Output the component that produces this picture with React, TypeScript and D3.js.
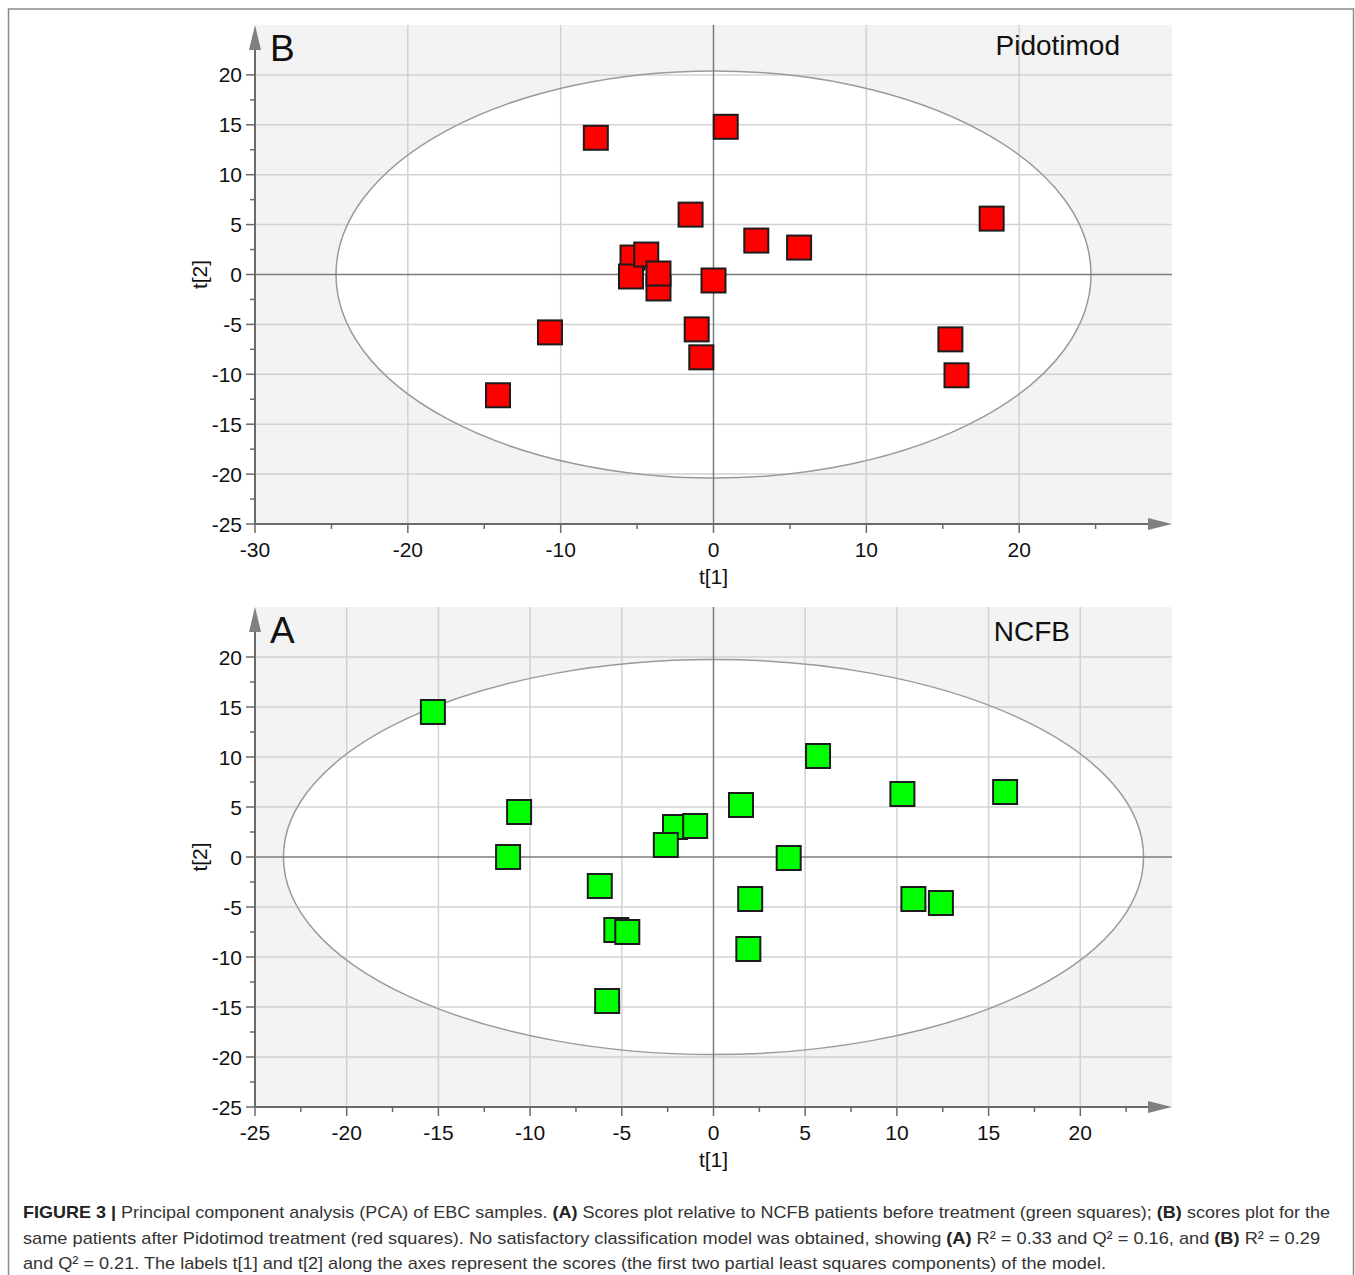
import React from 'react';
import * as d3 from 'd3';

// Scores for the Pidotimod group (panel B), drawn back to front
const pidotimodT1 = [-7.7, 0.8, -1.5, 2.8, 5.6, 18.2, -3.6, -5.3, -5.4, -4.4, -3.6, 0.0, -1.1, -0.8, -10.7, -14.1, 15.5, 15.9];
const pidotimodT2 = [13.7, 14.8, 6.0, 3.4, 2.7, 5.6, -1.4, 1.7, -0.2, 2.0, 0.1, -0.6, -5.5, -8.3, -5.8, -12.1, -6.5, -10.1];

// Scores for the NCFB group (panel A)
const ncfbT1 = [-15.3, -10.6, -11.2, -2.1, -1.0, -2.6, 1.5, -6.2, -5.3, -4.7, 2.0, 1.9, 5.7, 10.3, 15.9, 4.1, 10.9, 12.4, -5.8];
const ncfbT2 = [14.5, 4.5, 0.0, 3.0, 3.1, 1.2, 5.2, -2.9, -7.3, -7.5, -4.2, -9.2, 10.1, 6.3, 6.5, -0.1, -4.2, -4.6, -14.4];

// Hotelling T2 ellipse semi-axes (t[1], t[2])
const pidotimodEllipse = [24.7, 20.4];
const ncfbEllipse = [23.45, 19.75];

// Axis ticks
const yTicks = [20, 15, 10, 5, 0, -5, -10, -15, -20, -25];
const yMinorTicks = [17.5, 12.5, 7.5, 2.5, -2.5, -7.5, -12.5, -17.5, -22.5];
const yGrid = [20, 15, 10, 5, -5, -10, -15, -20];

const xTicksB = [-30, -20, -10, 0, 10, 20];
const xMinorB = [-25, -15, -5, 5, 15, 25];
const xGridB = [-20, -10, 10, 20];

const xTicksA = [-25, -20, -15, -10, -5, 0, 5, 10, 15, 20];
const xMinorA = [-22.5, -17.5, -12.5, -7.5, -2.5, 2.5, 7.5, 12.5, 17.5, 22.5];
const xGridA = [-20, -15, -10, -5, 5, 10, 15, 20];

const captionLines = [
  [
    { b: true, t: 'FIGURE 3 | ' },
    { b: false, t: 'Principal component analysis (PCA) of EBC samples. ' },
    { b: true, t: '(A)' },
    { b: false, t: ' Scores plot relative to NCFB patients before treatment (green squares); ' },
    { b: true, t: '(B)' },
    { b: false, t: ' scores plot for the' },
  ],
  [
    { b: false, t: 'same patients after Pidotimod treatment (red squares). No satisfactory classification model was obtained, showing ' },
    { b: true, t: '(A)' },
    { b: false, t: ' R² = 0.33 and Q² = 0.16, and ' },
    { b: true, t: '(B)' },
    { b: false, t: ' R² = 0.29' },
  ],
  [
    { b: false, t: 'and Q² = 0.21. The labels t[1] and t[2] along the axes represent the scores (the first two partial least squares components) of the model.' },
  ],
];
const captionWidths = [1307, 1297, 1083];

const FONT = '"Liberation Sans", Arial, Helvetica, sans-serif';

type PanelProps = {
  top: number;
  bottom: number;
  left: number;
  right: number;
  xDomain: [number, number];
  xTicks: number[];
  xMinor: number[];
  xGrid: number[];
  t1: number[];
  t2: number[];
  ellipse: number[];
  fill: string;
  letter: string;
  title: string;
  letterDy: number;
  titleDy: number;
  titleRight: number;
};

function ScorePanel(p: PanelProps) {
  const x = d3.scaleLinear().domain(p.xDomain).range([p.left, p.right]);
  const y = d3.scaleLinear().domain([-25, 25]).range([p.bottom, p.top]);
  const cx = x(0);
  const cy = y(0);
  const rx = x(p.ellipse[0]) - cx;
  const ry = cy - y(p.ellipse[1]);
  const side = 24;
  const gridColor = '#d2d2d2';
  const axisColor = '#6a6a6a';

  return (
    <g>
      <rect x={p.left} y={p.top} width={p.right - p.left} height={p.bottom - p.top} fill="#f3f3f3" />
      <ellipse cx={cx} cy={cy} rx={rx} ry={ry} fill="#ffffff" />
      {yGrid.map((v) => (
        <line key={'gy' + v} x1={p.left} x2={p.right} y1={y(v)} y2={y(v)} stroke={gridColor} strokeWidth={1.5} />
      ))}
      {p.xGrid.map((v) => (
        <line key={'gx' + v} x1={x(v)} x2={x(v)} y1={p.top} y2={p.bottom} stroke={gridColor} strokeWidth={1.5} />
      ))}
      <ellipse cx={cx} cy={cy} rx={rx} ry={ry} fill="none" stroke="#9a9a9a" strokeWidth={1.5} />
      <line x1={p.left} x2={p.right} y1={cy} y2={cy} stroke="#7c7c7c" strokeWidth={1.5} />
      <line x1={cx} x2={cx} y1={p.top} y2={p.bottom} stroke="#7c7c7c" strokeWidth={1.5} />

      {/* axes with arrow heads */}
      <line x1={p.left} x2={p.right - 20} y1={p.bottom} y2={p.bottom} stroke={axisColor} strokeWidth={2} />
      <line x1={p.left} x2={p.left} y1={p.bottom} y2={p.top + 20} stroke={axisColor} strokeWidth={2} />
      <path d={`M${p.right},${p.bottom} L${p.right - 24},${p.bottom - 6} L${p.right - 24},${p.bottom + 6} Z`} fill="#808080" />
      <path d={`M${p.left},${p.top} L${p.left - 6},${p.top + 25} L${p.left + 6},${p.top + 25} Z`} fill="#808080" />

      {yTicks.map((v) => (
        <g key={'yt' + v}>
          <line x1={p.left - 9} x2={p.left} y1={y(v)} y2={y(v)} stroke={axisColor} strokeWidth={1.5} />
          <text x={p.left - 13} y={y(v) + 7.5} textAnchor="end" fontSize={21} fontFamily={FONT} fill="#111">
            {v}
          </text>
        </g>
      ))}
      {yMinorTicks.map((v) => (
        <line key={'ym' + v} x1={p.left - 5} x2={p.left} y1={y(v)} y2={y(v)} stroke={axisColor} strokeWidth={1.5} />
      ))}
      {p.xTicks.map((v) => (
        <g key={'xt' + v}>
          <line x1={x(v)} x2={x(v)} y1={p.bottom} y2={p.bottom + 9} stroke={axisColor} strokeWidth={1.5} />
          <text x={x(v)} y={p.bottom + 33} textAnchor="middle" fontSize={21} fontFamily={FONT} fill="#111">
            {v}
          </text>
        </g>
      ))}
      {p.xMinor.map((v) => (
        <line key={'xm' + v} x1={x(v)} x2={x(v)} y1={p.bottom} y2={p.bottom + 5} stroke={axisColor} strokeWidth={1.5} />
      ))}

      <text x={cx} y={p.bottom + 60} textAnchor="middle" fontSize={21} fontFamily={FONT} fill="#111">
        t[1]
      </text>
      <text
        transform={`translate(${p.left - 48},${cy}) rotate(-90)`}
        textAnchor="middle"
        fontSize={21}
        fontFamily={FONT}
        fill="#111"
      >
        t[2]
      </text>

      <text x={p.left + 15} y={p.top + p.letterDy} fontSize={37} fontFamily={FONT} fill="#111">
        {p.letter}
      </text>
      <text x={p.titleRight} y={p.top + p.titleDy} textAnchor="end" fontSize={28} fontFamily={FONT} fill="#111">
        {p.title}
      </text>

      {p.t1.map((v, i) => (
        <rect
          key={'pt' + i}
          x={x(v) - side / 2}
          y={y(p.t2[i]) - side / 2}
          width={side}
          height={side}
          fill={p.fill}
          stroke="#1c1c1c"
          strokeWidth={2}
        />
      ))}
    </g>
  );
}

export default function App() {
  return (
    <svg
      width={1355}
      height={1275}
      viewBox="0 0 1355 1275"
      style={{ position: 'absolute', left: 0, top: 0, background: '#fff' }}
    >
      <rect x={8.5} y={9} width={1345} height={1300} fill="none" stroke="#8a8a8a" strokeWidth={1.5} />

      <ScorePanel
        top={25}
        bottom={524}
        left={255}
        right={1172}
        xDomain={[-30, 30]}
        xTicks={xTicksB}
        xMinor={xMinorB}
        xGrid={xGridB}
        t1={pidotimodT1}
        t2={pidotimodT2}
        ellipse={pidotimodEllipse}
        fill="#ff0000"
        letter="B"
        title="Pidotimod"
        letterDy={36}
        titleDy={30}
        titleRight={1120}
      />
      <ScorePanel
        top={607}
        bottom={1107}
        left={255}
        right={1172}
        xDomain={[-25, 25]}
        xTicks={xTicksA}
        xMinor={xMinorA}
        xGrid={xGridA}
        t1={ncfbT1}
        t2={ncfbT2}
        ellipse={ncfbEllipse}
        fill="#00ff00"
        letter="A"
        title="NCFB"
        letterDy={36}
        titleDy={34}
        titleRight={1070}
      />

      {captionLines.map((line, i) => (
        <text
          key={'cap' + i}
          x={23}
          y={1218 + i * 25.5}
          fontSize={17}
          fontFamily={FONT}
          fill="#333"
          textLength={captionWidths[i]}
          lengthAdjust="spacingAndGlyphs"
        >
          {line.map((s, j) => (
            <tspan key={j} fontWeight={s.b ? 'bold' : 'normal'} fill={s.b ? '#222' : '#333'}>
              {s.t}
            </tspan>
          ))}
        </text>
      ))}
    </svg>
  );
}
